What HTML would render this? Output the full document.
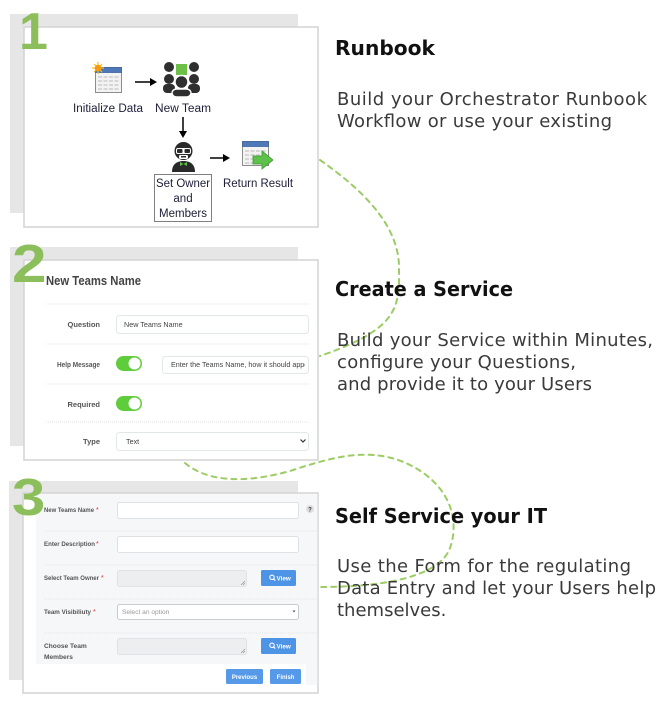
<!DOCTYPE html>
<html>
<head>
<meta charset="utf-8">
<style>
  html,body{margin:0;padding:0;background:#fff;}
  body{width:667px;height:713px;overflow:hidden;}
  svg{display:block;}
  .lbl{font-family:"Liberation Sans",sans-serif;font-weight:bold;fill:#555;}
  .in{font-family:"Liberation Sans",sans-serif;fill:#444;}
  .rb{font-family:"Liberation Sans","DejaVu Sans",sans-serif;fill:#1d1d38;font-size:11.5px;}
  .h{font-family:"DejaVu Sans",sans-serif;font-weight:bold;fill:#111;font-size:20px;}
  .b{font-family:"DejaVu Sans",sans-serif;fill:#3a3a3a;font-size:18px;}
  .num{font-family:"Liberation Sans",sans-serif;font-weight:bold;fill:#8cbf5b;}
</style>
</head>
<body>
<svg width="667" height="713" viewBox="0 0 667 713" xmlns="http://www.w3.org/2000/svg">
  <!-- dashed connector curves -->
  <g fill="none" stroke="#9ccc65" stroke-width="2" stroke-dasharray="5 5" stroke-linecap="round">
    <path d="M320,160 C370,195 400,230 399,270 C400,310 395,330 320,356"/>
    <path d="M185,463 C205,480 240,485 290,471 C330,458 370,445 410,465 C450,485 460,520 450,548 C440,575 390,587 320,587"/>
  </g>

  <!-- ============ PANEL 1 ============ -->
  <rect x="10" y="14" width="288" height="199" fill="#e6e6e6"/>
  <rect x="24" y="27" width="294" height="200" fill="#fff" stroke="#d3d3d3" stroke-width="1.5"/>
  <text class="num" x="19" y="49" font-size="52">1</text>

  <!-- Initialize Data icon -->
  <rect x="95.5" y="67.5" width="26" height="25" fill="#f3f3f3" stroke="#8d8d8d"/>
  <rect x="95.5" y="67.5" width="26" height="5" fill="#4f78b8" stroke="#3f63a0" stroke-width="0.8"/>
  <g stroke="#b9b9b9" stroke-width="1" stroke-dasharray="4 1.5">
    <line x1="98" y1="77" x2="119" y2="77"/>
    <line x1="98" y1="81" x2="119" y2="81"/>
    <line x1="98" y1="85" x2="119" y2="85"/>
    <line x1="98" y1="89" x2="119" y2="89"/>
  </g>
  <g stroke="#f6c21a" stroke-width="1.2">
    <line x1="92" y1="68" x2="104" y2="68"/>
    <line x1="98" y1="62" x2="98" y2="74"/>
    <line x1="94" y1="64" x2="102" y2="72"/>
    <line x1="102" y1="64" x2="94" y2="72"/>
  </g>
  <circle cx="98" cy="68" r="3.3" fill="#f39a12"/>
  <text class="rb" x="108" y="112" text-anchor="middle" textLength="70" lengthAdjust="spacingAndGlyphs">Initialize Data</text>

  <!-- arrow 1 -->
  <line x1="135" y1="82" x2="151" y2="82" stroke="#000" stroke-width="1.5"/>
  <polygon points="150,78 157,82 150,86" fill="#000"/>

  <!-- New Team icon -->
  <g fill="#2f2f2f">
    <rect x="176" y="64" width="11" height="11" fill="#6cc04a"/>
    <circle cx="169" cy="67" r="5"/>
    <circle cx="169" cy="79" r="5"/>
    <rect x="163" y="84" width="12" height="9" rx="4"/>
    <circle cx="194" cy="67" r="5"/>
    <circle cx="194" cy="79" r="5"/>
    <rect x="188" y="84" width="12" height="9" rx="4"/>
    <circle cx="181.5" cy="82" r="6.5" stroke="#fff" stroke-width="1.5"/>
    <rect x="172" y="89" width="19" height="8" rx="4.5" stroke="#fff" stroke-width="1.5"/>
  </g>
  <text class="rb" x="183" y="112" text-anchor="middle" textLength="56" lengthAdjust="spacingAndGlyphs">New Team</text>

  <!-- down arrow -->
  <line x1="183" y1="117" x2="183" y2="132" stroke="#000" stroke-width="1.5"/>
  <polygon points="179,131 183,138 187,131" fill="#000"/>

  <!-- Owner icon -->
  <path d="M172,172 C172,164 177,161 183.5,161 C190,161 195,164 195,172 Z" fill="#2a2a2a"/>
  <circle cx="183.5" cy="151" r="9" fill="#2a2a2a"/>
  <rect x="176" y="148" width="15" height="6" rx="2" fill="#fff"/>
  <rect x="177" y="149" width="5.5" height="4" rx="1" fill="#2a2a2a"/>
  <rect x="184.5" y="149" width="5.5" height="4" rx="1" fill="#2a2a2a"/>
  <rect x="179" y="155" width="9" height="4" rx="1.5" fill="#fff"/>
  <rect x="181" y="156" width="5" height="1.5" fill="#2a2a2a"/>
  <polygon points="180,162 183.5,164 187,162 187,166 183.5,164 180,166" fill="#5ec24a"/>
  <rect x="154.5" y="174.5" width="57" height="47" fill="none" stroke="#000" stroke-width="1" stroke-dasharray="1 1"/>
  <text class="rb" x="183" y="187" text-anchor="middle" textLength="54" lengthAdjust="spacingAndGlyphs">Set Owner</text>
  <text class="rb" x="183" y="202" text-anchor="middle">and</text>
  <text class="rb" x="183" y="217" text-anchor="middle">Members</text>

  <!-- arrow 3 -->
  <line x1="210" y1="158" x2="224" y2="158" stroke="#000" stroke-width="1.5"/>
  <polygon points="223,154 230,158 223,162" fill="#000"/>

  <!-- Return Result icon -->
  <rect x="242.5" y="141.5" width="26" height="24" fill="#f3f3f3" stroke="#8d8d8d"/>
  <rect x="242.5" y="141.5" width="26" height="5" fill="#4f78b8" stroke="#3f63a0" stroke-width="0.8"/>
  <g stroke="#b9b9b9" stroke-width="1" stroke-dasharray="4 1.5">
    <line x1="245" y1="151" x2="266" y2="151"/>
    <line x1="245" y1="155" x2="266" y2="155"/>
    <line x1="245" y1="159" x2="256" y2="159"/>
    <line x1="245" y1="163" x2="256" y2="163"/>
  </g>
  <polygon points="253,156 262,156 262,151 273,160 262,169 262,164 253,164" fill="#5ec24a" stroke="#3c9a2e" stroke-width="0.8"/>
  <text class="rb" x="258" y="187" text-anchor="middle" textLength="70" lengthAdjust="spacingAndGlyphs">Return Result</text>

  <!-- ============ PANEL 2 ============ -->
  <rect x="10" y="247" width="288" height="199" fill="#e6e6e6"/>
  <rect x="24" y="260" width="294" height="200" fill="#fff" stroke="#d3d3d3" stroke-width="1.5"/>
  <text class="num" transform="translate(12,282) scale(1.15,1)" font-size="54">2</text>
  <text x="46" y="285" font-family="Liberation Sans, sans-serif" font-weight="bold" font-size="12.5" fill="#444" textLength="95" lengthAdjust="spacingAndGlyphs">New Teams Name</text>
  <g stroke="#e3e3e3" stroke-width="1" stroke-dasharray="1 1">
    <line x1="46" y1="304" x2="309" y2="304"/>
    <line x1="46" y1="344" x2="309" y2="344"/>
    <line x1="46" y1="384" x2="309" y2="384"/>
    <line x1="46" y1="422" x2="309" y2="422"/>
  </g>
  <text class="lbl" x="100" y="327" font-size="7.5" text-anchor="end">Question</text>
  <rect x="116.5" y="315.5" width="192" height="18" rx="3" fill="#fff" stroke="#e2e8ea"/>
  <text class="in" x="124" y="327" font-size="7.2">New Teams Name</text>

  <text class="lbl" x="100" y="367" font-size="7.5" text-anchor="end" textLength="43" lengthAdjust="spacingAndGlyphs">Help Message</text>
  <rect x="116" y="356" width="26" height="15" rx="7.5" fill="#5fcd3b"/>
  <circle cx="134.5" cy="363.5" r="6" fill="#fff"/>
  <rect x="162.5" y="356.5" width="146" height="17" rx="3" fill="#fff" stroke="#e2e8ea"/>
  <svg x="162" y="356" width="143" height="18">
    <text class="in" x="9" y="11" font-size="7.2">Enter the Teams Name, how it should appear</text>
  </svg>

  <text class="lbl" x="100" y="407" font-size="7.5" text-anchor="end">Required</text>
  <rect x="116" y="396" width="26" height="15" rx="7.5" fill="#5fcd3b"/>
  <circle cx="134.5" cy="403.5" r="6" fill="#fff"/>

  <text class="lbl" x="100" y="444" font-size="7.5" text-anchor="end">Type</text>
  <rect x="116.5" y="432.5" width="192" height="18" rx="3" fill="#fff" stroke="#e2e8ea"/>
  <text class="in" x="126" y="444" font-size="7.2">Text</text>
  <polyline points="300.5,439.5 303,442 305.5,439.5" fill="none" stroke="#333" stroke-width="1.2"/>

  <!-- ============ PANEL 3 ============ -->
  <rect x="9" y="481" width="289" height="199" fill="#e6e6e6"/>
  <rect x="23" y="493" width="295" height="200" fill="#fff" stroke="#d3d3d3" stroke-width="1.5"/>
  <rect x="36" y="494" width="281.5" height="191" fill="#f6f7f9"/>
  <rect x="36" y="664" width="270" height="21" fill="#fff"/>
  <text class="num" transform="translate(12,515) scale(1.15,1)" font-size="52">3</text>

  <g stroke="#e4e6e8" stroke-width="1" stroke-dasharray="1 1">
    <line x1="44" y1="531" x2="318" y2="531"/>
    <line x1="44" y1="565" x2="318" y2="565"/>
    <line x1="44" y1="599" x2="318" y2="599"/>
    <line x1="44" y1="633" x2="318" y2="633"/>
  </g>

  <text class="lbl" x="44" y="512" font-size="6.6" textLength="50" lengthAdjust="spacingAndGlyphs">New Teams Name</text>
  <text x="96" y="512" font-size="7" fill="#e03030" font-family="Liberation Sans, sans-serif">*</text>
  <rect x="117.5" y="502.5" width="181" height="16" rx="2" fill="#fff" stroke="#dde1e4"/>
  <circle cx="310" cy="509" r="4" fill="#dedede"/>
  <text x="310" y="511.5" font-size="6" font-weight="bold" text-anchor="middle" fill="#333" font-family="Liberation Sans, sans-serif">?</text>

  <text class="lbl" x="44" y="546" font-size="6.6" textLength="51" lengthAdjust="spacingAndGlyphs">Enter Description</text>
  <text x="96" y="546" font-size="7" fill="#e03030" font-family="Liberation Sans, sans-serif">*</text>
  <rect x="117.5" y="536.5" width="181" height="16" rx="2" fill="#fff" stroke="#dde1e4"/>

  <text class="lbl" x="44" y="580" font-size="6.6" textLength="55" lengthAdjust="spacingAndGlyphs">Select Team Owner</text>
  <text x="101" y="580" font-size="7" fill="#e03030" font-family="Liberation Sans, sans-serif">*</text>
  <rect x="117.5" y="570.5" width="129" height="16" rx="2" fill="#eceeef" stroke="#e0e3e5"/>
  <line x1="241" y1="585" x2="245" y2="581" stroke="#999" stroke-width="0.7"/>
  <line x1="243" y1="585" x2="245" y2="583" stroke="#999" stroke-width="0.7"/>
  <rect x="261" y="570" width="35" height="16" rx="1.5" fill="#4d94e6"/>
  <circle cx="272" cy="577.3" r="2.2" fill="none" stroke="#fff" stroke-width="1.1"/>
  <line x1="273.6" y1="578.9" x2="275.3" y2="580.6" stroke="#fff" stroke-width="1.2"/>
  <text x="276.5" y="580.5" font-size="6.3" fill="#fff" font-family="Liberation Sans, sans-serif" font-weight="bold">View</text>

  <text class="lbl" x="44" y="614" font-size="6.6" textLength="47" lengthAdjust="spacingAndGlyphs">Team Visibiliuty</text>
  <text x="93" y="614" font-size="7" fill="#e03030" font-family="Liberation Sans, sans-serif">*</text>
  <rect x="117.5" y="604.5" width="181" height="15" rx="2" fill="#fff" stroke="#c9ccce"/>
  <text x="122" y="614" font-size="6.6" fill="#999" font-family="Liberation Sans, sans-serif">Select an option</text>
  <polygon points="292.5,610.5 295.5,610.5 294,612.5" fill="#555"/>

  <text class="lbl" x="44" y="648" font-size="6.6">Choose Team</text>
  <text class="lbl" x="44" y="659" font-size="6.6">Members</text>
  <rect x="117.5" y="638.5" width="129" height="16" rx="2" fill="#eceeef" stroke="#e0e3e5"/>
  <line x1="241" y1="653" x2="245" y2="649" stroke="#999" stroke-width="0.7"/>
  <line x1="243" y1="653" x2="245" y2="651" stroke="#999" stroke-width="0.7"/>
  <rect x="261" y="638" width="35" height="16" rx="1.5" fill="#4d94e6"/>
  <circle cx="272" cy="645.3" r="2.2" fill="none" stroke="#fff" stroke-width="1.1"/>
  <line x1="273.6" y1="646.9" x2="275.3" y2="648.6" stroke="#fff" stroke-width="1.2"/>
  <text x="276.5" y="648.5" font-size="6.3" fill="#fff" font-family="Liberation Sans, sans-serif" font-weight="bold">View</text>

  <rect x="226" y="669" width="37" height="15" rx="1.5" fill="#5599e8"/>
  <text x="244.5" y="679" font-size="6" fill="#fff" text-anchor="middle" font-family="Liberation Sans, sans-serif" font-weight="bold">Previous</text>
  <rect x="270" y="669" width="31" height="15" rx="1.5" fill="#5599e8"/>
  <text x="285.5" y="679" font-size="6" fill="#fff" text-anchor="middle" font-family="Liberation Sans, sans-serif" font-weight="bold">Finish</text>

  <!-- ============ RIGHT TEXT ============ -->
  <text class="h" x="335" y="55" textLength="100" lengthAdjust="spacingAndGlyphs">Runbook</text>
  <text class="b" x="337" y="105" textLength="310" lengthAdjust="spacing">Build your Orchestrator Runbook</text>
  <text class="b" x="337" y="127" textLength="275" lengthAdjust="spacing">Workflow or use your existing</text>

  <text class="h" x="335" y="296" textLength="178" lengthAdjust="spacingAndGlyphs">Create a Service</text>
  <text class="b" x="337" y="346" textLength="316" lengthAdjust="spacing">Build your Service within Minutes,</text>
  <text class="b" x="337" y="368" textLength="239" lengthAdjust="spacing">configure your Questions,</text>
  <text class="b" x="337" y="390" textLength="255" lengthAdjust="spacing">and provide it to your Users</text>

  <text class="h" x="335" y="523" textLength="212" lengthAdjust="spacingAndGlyphs">Self Service your IT</text>
  <text class="b" x="337" y="572" textLength="294" lengthAdjust="spacing">Use the Form for the regulating</text>
  <text class="b" x="337" y="594" textLength="319" lengthAdjust="spacing">Data Entry and let your Users help</text>
  <text class="b" x="337" y="616">themselves.</text>
</svg>
</body>
</html>
